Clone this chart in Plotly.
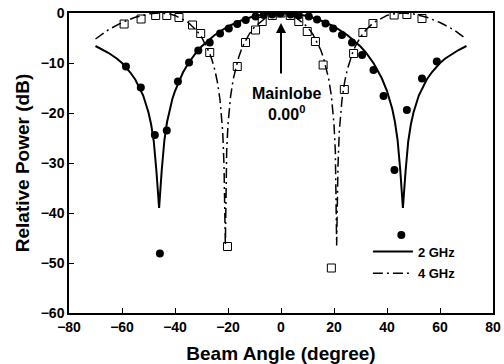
import plotly.graph_objects as go

# 2 GHz simulated pattern
ang2 = [-70, -67, -65, -62, -60, -57, -55, -52, -50, -49, -48, -47, -46, -45, -44, -43, -42, -41, -40, -38, -37, -35, -32, -30, -25, -20, -15, -10, -5, 0,
        5, 10, 15, 20, 25, 30, 32, 35, 37, 38, 40, 41, 42, 43, 44, 45, 46, 47, 48, 49, 50, 52, 55, 57, 60, 62, 65, 67, 70]
pow2 = [-6.6, -7.4, -8.0, -9.1, -10.0, -11.8, -13.3, -16.5, -19.9, -22.3, -25.7, -31.7, -39.0, -31.4, -25.4, -21.8, -19.2, -17.2, -15.6, -13.0, -11.9, -10.1, -7.9, -6.7, -4.4, -2.7, -1.5, -0.6, -0.2, 0.0,
        -0.2, -0.6, -1.5, -2.7, -4.4, -6.7, -7.9, -10.1, -11.9, -13.0, -15.6, -17.2, -19.2, -21.8, -25.4, -31.4, -39.0, -31.7, -25.7, -22.3, -19.9, -16.5, -13.3, -11.8, -10.0, -9.1, -8.0, -7.4, -6.6]

# 4 GHz simulated pattern
ang4 = [-70, -65, -60, -55, -50, -46, -42, -40, -35, -32, -30, -28, -27, -26, -25, -24, -23, -22, -21.5, -21, -20.5, -20, -19, -18, -17, -16, -15, -14, -12, -10, -5, 0,
        5, 10, 12, 14, 15, 16, 17, 18, 19, 20, 20.5, 21, 21.5, 22, 23, 24, 25, 26, 27, 28, 30, 32, 35, 40, 42, 46, 50, 55, 60, 65, 70]
pow4 = [-5.2, -3.3, -1.9, -0.85, -0.18, 0.0, -0.21, -0.48, -1.9, -3.41, -4.8, -6.72, -7.96, -9.46, -11.33, -13.81, -17.4, -23.7, -30.6, -46.5, -27.6, -22.25, -16.56, -13.16, -10.76, -8.9, -7.39, -6.17, -4.22, -2.78, -0.65, 0.0,
        -0.65, -2.78, -4.22, -6.17, -7.39, -8.9, -10.76, -13.16, -16.56, -22.25, -27.6, -46.5, -30.6, -23.7, -17.4, -13.81, -11.33, -9.46, -7.96, -6.72, -4.8, -3.41, -1.9, -0.48, -0.21, 0.0, -0.18, -0.85, -1.9, -3.3, -5.2]

# 2 GHz measured (filled circles)
m2x = [-58.5, -52.9, -47.6, -45.7, -43.1, -38.9, -34.7, -31.2, -26.9, -23.0, -19.7, -16.5, -13.3, -9.6, -6.5, -3.3, -0.2,
       3.6, 6.7, 10.5, 13.6, 16.8, 19.7, 23.0, 26.8, 30.6, 34.9, 38.7, 42.8, 45.4, 47.5, 53.2, 58.8]
m2y = [-10.7, -14.9, -24.4, -48.1, -23.5, -13.7, -9.9, -7.5, -5.9, -4.1, -3.1, -2.2, -1.4, -0.7, -0.4, -0.3, -0.1,
       -0.3, -0.5, -0.7, -1.3, -2.1, -3.1, -4.4, -5.9, -8.4, -11.4, -16.6, -31.4, -44.4, -19.4, -13.1, -9.7]

# 4 GHz measured (open squares)
m4x = [-59.2, -52.8, -47.3, -43.1, -38.5, -33.4, -30.3, -26.9, -20.2, -16.5, -13.4, -9.6, -7.1, -3.3, 0.0,
       3.5, 6.7, 9.9, 13.0, 15.9, 19.0, 23.9, 27.4, 30.9, 34.7, 42.7, 47.5, 53.2]
m4y = [-2.2, -1.2, -0.5, -0.5, -0.9, -2.4, -4.1, -7.9, -46.7, -10.7, -5.9, -3.4, -1.7, -0.5, 0.0,
       -0.5, -1.7, -3.7, -5.7, -10.4, -51.0, -15.3, -8.1, -3.9, -2.1, -0.4, -0.3, -1.1]

xticks = [-80, -60, -40, -20, 0, 20, 40, 60, 80]
yticks = [-60, -50, -40, -30, -20, -10, 0]

FONT = "Liberation Sans, Arial, Helvetica, sans-serif"

fig = go.Figure()
fig.add_trace(go.Scatter(x=ang2, y=pow2, mode="lines", name="2 GHz", legendgroup="a",
                         line=dict(color="black", width=2)))
fig.add_trace(go.Scatter(x=ang4, y=pow4, mode="lines", name="4 GHz", legendgroup="b",
                         line=dict(color="black", width=1.5, dash="10px,4px,2px,4px")))
fig.add_trace(go.Scatter(x=m2x, y=m2y, mode="markers", showlegend=False,
                         marker=dict(symbol="circle", size=8, color="black")))
fig.add_trace(go.Scatter(x=m4x, y=m4y, mode="markers", showlegend=False,
                         marker=dict(symbol="square-open", size=8, color="black",
                                     line=dict(width=1, color="black"))))

fig.add_annotation(x=0, y=-2, xref="x", yref="y", text="", showarrow=True,
                   ax=0, ay=52, arrowhead=2, arrowsize=1, arrowwidth=2, arrowcolor="black")
fig.add_annotation(x=2, y=-18.2, xref="x", yref="y", showarrow=False,
                   text="Mainlobe<br>0.00<sup>0</sup>",
                   font=dict(family=FONT, size=16, color="black", weight="bold"))

axis_common = dict(showline=True, linecolor="black", linewidth=1.5, mirror=True,
                   ticks="inside", ticklen=5, tickcolor="black", showgrid=False,
                   zeroline=False, automargin=False,
                   tickfont=dict(family=FONT, size=14, color="black", weight="bold"))

fig.update_xaxes(range=[-80, 80], tickvals=xticks,
                 title=dict(text="Beam Angle (degree)", standoff=13,
                            font=dict(family=FONT, size=19, color="black", weight="bold")),
                 **axis_common)
fig.update_yaxes(range=[-60, 0], tickvals=yticks,
                 title=dict(text="Relative Power (dB)", standoff=6,
                            font=dict(family=FONT, size=19, color="black", weight="bold")),
                 **axis_common)

fig.update_layout(
    width=504, height=364,
    margin=dict(l=69, r=11, t=13, b=51),
    plot_bgcolor="white", paper_bgcolor="white",
    showlegend=True,
    legend=dict(x=0.705, y=0.255, xanchor="left", yanchor="top",
                bgcolor="rgba(0,0,0,0)", borderwidth=0, itemwidth=40,
                tracegroupgap=2,
                font=dict(family=FONT, size=13, color="black", weight="bold")),
)

fig.write_html("out.html")
